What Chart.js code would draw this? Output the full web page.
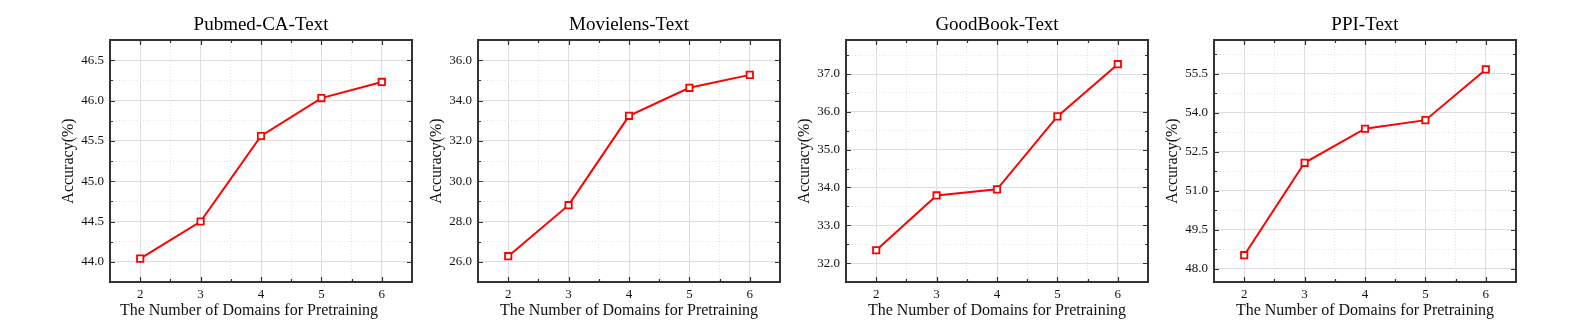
<!DOCTYPE html>
<html><head><meta charset="utf-8">
<script src="https://cdn.jsdelivr.net/npm/chart.js@4/dist/chart.umd.min.js"></script>
<style>
html,body{margin:0;padding:0;background:#fff;width:1577px;height:333px;overflow:hidden;}
.wrap{position:absolute;top:0;width:440px;height:333px;}
canvas{display:block;}
</style></head><body>
<div class="wrap" style="left:0px"><canvas id="c0" width="440" height="333"></canvas></div>
<div class="wrap" style="left:368px"><canvas id="c1" width="440" height="333"></canvas></div>
<div class="wrap" style="left:736px"><canvas id="c2" width="440" height="333"></canvas></div>
<div class="wrap" style="left:1104px"><canvas id="c3" width="440" height="333"></canvas></div>
<script>
// ---- data ----
const domains = [2, 3, 4, 5, 6];
const xTickLabels = ['2', '3', '4', '5', '6'];
const chartTitles = ['Pubmed-CA-Text', 'Movielens-Text', 'GoodBook-Text', 'PPI-Text'];
const pubmedAcc = [44.04, 44.50, 45.56, 46.03, 46.23];
const movielensAcc = [26.28, 28.81, 33.24, 34.63, 35.27];
const goodbookAcc = [32.34, 33.79, 33.95, 35.88, 37.26];
const ppiAcc = [48.53, 52.08, 53.39, 53.72, 55.67];
const yMins = [43.75, 25, 31.5, 47.5];
const yMaxs = [46.75, 37, 37.9, 56.8];
const yMajorSteps = [0.5, 2, 1, 1.5];
const xLabel = 'The Number of Domains for Pretraining';
const yLabel = 'Accuracy(%)';
const seriesList = [pubmedAcc, movielensAcc, goodbookAcc, ppiAcc];

// ---- helpers ----
const FONT = "'Liberation Serif', 'Times New Roman', serif";
const TXT = '#111';
function isMult(v, step) {
  const r = v / step;
  return Math.abs(r - Math.round(r)) < 1e-6;
}
function stepValues(min, max, step) {
  const out = [];
  const k0 = Math.ceil(min / step - 1e-9), k1 = Math.floor(max / step + 1e-9);
  for (let k = k0; k <= k1; k++) out.push(Math.round(k * step * 1e6) / 1e6);
  return out;
}

const framePlugin = {
  id: 'frame',
  beforeDatasetsDraw(chart) {
    const {ctx, chartArea: a} = chart;
    const xs = chart.scales.x, ys = chart.scales.y;
    const yMaj = chart.options.plugins.frame.yMajor;
    ctx.save();
    ctx.strokeStyle = '#333';
    ctx.lineWidth = 1.2;
    ctx.beginPath();
    xs.ticks.forEach(t => {
      const p = Math.round(xs.getPixelForValue(t.value)) + 0.5;
      if (p < a.left + 2 || p > a.right - 2) return;
      const L = isMult(t.value, 1) ? 5 : 3;
      ctx.moveTo(p, a.bottom); ctx.lineTo(p, a.bottom - L);
      ctx.moveTo(p, a.top); ctx.lineTo(p, a.top + L);
    });
    ys.ticks.forEach(t => {
      const p = Math.round(ys.getPixelForValue(t.value)) + 0.5;
      if (p < a.top + 2 || p > a.bottom - 2) return;
      const L = isMult(t.value, yMaj) ? 5 : 3;
      ctx.moveTo(a.left, p); ctx.lineTo(a.left + L, p);
      ctx.moveTo(a.right, p); ctx.lineTo(a.right - L, p);
    });
    ctx.stroke();
    ctx.lineWidth = 2;
    ctx.strokeStyle = '#333';
    ctx.strokeRect(a.left, a.top, a.right - a.left, a.bottom - a.top);
    ctx.restore();
  }
};

seriesList.forEach((vals, i) => {
  const yMaj = yMajorSteps[i];
  const yMin = yMins[i], yMax = yMaxs[i];
  // first panel's x-axis title sits slightly left of centre in the reference
  const xTitle = i === 0 ? xLabel + '\u00A0\u00A0\u00A0\u00A0\u00A0\u00A0' : xLabel;
  new Chart(document.getElementById('c' + i), {
    type: 'line',
    data: {
      datasets: [{
        data: domains.map((d, k) => ({x: d, y: vals[k]})),
        borderColor: '#ff0000',
        borderWidth: 2,
        pointStyle: 'rect',
        pointRadius: 4.5,
        pointBorderWidth: 1.8,
        pointBackgroundColor: '#ffffff',
        pointBorderColor: '#ff0000',
        tension: 0,
        clip: false
      }]
    },
    options: {
      responsive: false,
      devicePixelRatio: 1,
      animation: false,
      events: [],
      layout: {padding: {left: 0, right: 28, top: 0, bottom: 0}},
      plugins: {
        legend: {display: false},
        tooltip: {enabled: false},
        title: {display: false},
        frame: {yMajor: yMaj}
      },
      scales: {
        x: {
          type: 'linear',
          position: 'bottom',
          min: 1.5, max: 6.5,
          afterFit(s) { s.height = 51; },
          afterBuildTicks(s) { s.ticks = stepValues(1.5, 6.5, 0.5).map(v => ({value: v})); },
          ticks: {
            autoSkip: false,
            maxRotation: 0,
            padding: 5,
            color: TXT,
            font: {family: FONT, size: 13},
            callback: v => isMult(v, 1) ? (xTickLabels[domains.indexOf(Math.round(v))] ?? '') : ''
          },
          grid: {
            drawTicks: false,
            color: c => isMult(c.tick.value, 1) ? '#dedede' : '#e4e4e4',
            lineWidth: 1
          },
          border: {display: false, dash: c => (c.tick && !isMult(c.tick.value, 1)) ? [1, 2] : []},
          title: {
            display: true, text: xTitle, color: TXT,
            font: {family: FONT, size: 16},
            padding: {top: 0, bottom: 12.5}
          }
        },
        x2: {
          type: 'linear',
          position: 'top',
          min: 1.5, max: 6.5,
          afterFit(s) { s.height = 40; },
          ticks: {display: false},
          grid: {display: false, drawTicks: false},
          border: {display: false},
          title: {
            display: true, text: chartTitles[i], color: '#000',
            font: {family: FONT, size: 19},
            padding: {top: 13.5, bottom: 0}
          }
        },
        y: {
          type: 'linear',
          position: 'left',
          min: yMin, max: yMax,
          afterFit(s) { s.width = 110; },
          afterBuildTicks(s) { s.ticks = stepValues(yMin, yMax, yMaj / 2).map(v => ({value: v})); },
          ticks: {
            autoSkip: false,
            padding: 6,
            color: TXT,
            font: {family: FONT, size: 13},
            callback: v => isMult(v, yMaj) ? Number(v).toFixed(1) : ''
          },
          grid: {
            drawTicks: false,
            color: c => isMult(c.tick.value, yMaj) ? '#dedede' : '#e4e4e4',
            lineWidth: 1
          },
          border: {display: false, dash: c => (c.tick && !isMult(c.tick.value, yMaj)) ? [1, 2] : []},
          title: {
            display: true, text: yLabel, color: TXT,
            font: {family: FONT, size: 16},
            padding: {top: 59, bottom: 0}
          }
        }
      }
    },
    plugins: [framePlugin]
  });
});
</script>
</body></html>
